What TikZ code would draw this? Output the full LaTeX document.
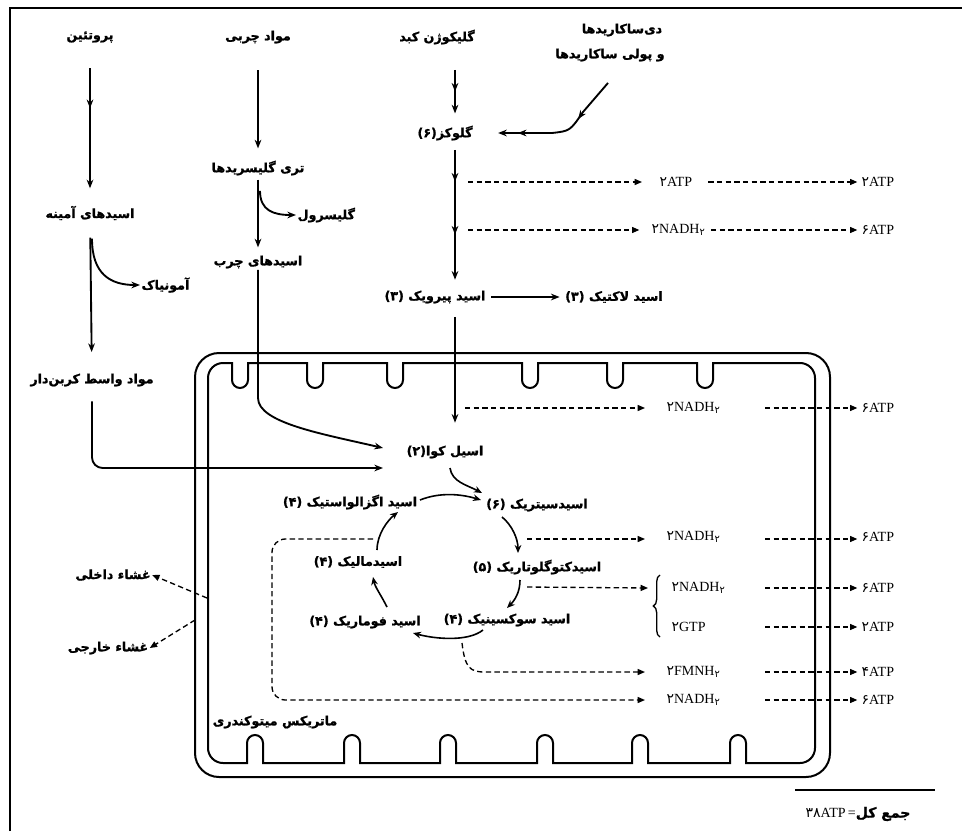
\documentclass[tikz,border=0pt]{standalone}
\usepackage{fontspec}
\setmainfont{Liberation Serif}
\newfontfamily\fa[Script=Arabic, BoldFeatures={FakeBold=1.2}]{DejaVu Sans}
\usetikzlibrary{arrows.meta,calc,decorations.markings,decorations.pathreplacing}
\TeXXeTstate=1
\newcommand{\rtl}[1]{\beginR#1\endR}
\newcommand{\pd}[1]{{\fa #1}}
\tikzset{
  fatxt/.style={font=\fa\bfseries\fontsize{9.5}{11}\selectfont, inner sep=1pt},
  entxt/.style={font=\fontsize{10.5}{12}\selectfont, inner sep=1pt, anchor=west},
  flow/.style={-{Stealth[length=6.5pt,width=5pt]}, line width=1.4pt},
  cyc/.style={-{Stealth[length=6pt,width=5pt]}, line width=1.2pt},
  dflow/.style={-{Triangle[length=5.5pt,width=4.5pt]}, line width=1pt, dash pattern=on 4pt off 2.5pt},
  midtip/.style={postaction={decorate}, decoration={markings,
      mark=at position #1 with {\arrow{Stealth[length=6.5pt,width=5pt]}}}},
  midtwo/.style 2 args={postaction={decorate}, decoration={markings,
      mark=at position #1 with {\arrow{Stealth[length=6.5pt,width=5pt]}},
      mark=at position #2 with {\arrow{Stealth[length=6.5pt,width=5pt]}}}},
  membrane/.style={line width=1.5pt}
}
\begin{document}
\begin{tikzpicture}[x=0.75pt, y=-0.75pt]
  \useasboundingbox (0,0) rectangle (962,831);
  % frame
  \draw[line width=2pt] (10,831) -- (10,8) -- (962,8);

  % mitochondrion
  \draw[membrane, rounded corners=18pt] (195,353) rectangle (830,777);
  \draw[membrane] (223,363)
    \foreach \cx in {240,315,395,530,615,705} { -- ({\cx-8},363) -- ({\cx-8},380) arc (180:0:8) -- ({\cx+8},363) }
    -- (800,363) arc (-90:0:15) -- (815,748) arc (0:90:15)
    \foreach \cx in {738,640,545,448,352,255} { -- ({\cx+8},763) -- ({\cx+8},743) arc (0:-180:8) -- ({\cx-8},763) }
    -- (223,763) arc (90:180:15) -- (208,378) arc (180:270:15) -- cycle;

  % column heads
  \node[fatxt] (hdrProt) at (90,37) {\rtl{پروتئین}};
  \node[fatxt] (hdrFat) at (258,37) {\rtl{مواد چربی}};
  \node[fatxt] (hdrGlyc) at (437,37) {\rtl{گلیکوژن کبد}};
  \node[fatxt] (hdrDi) at (622,30) {\rtl{دی‌ساکاریدها}};
  \node[fatxt] (hdrPoly) at (610,55) {\rtl{و پولی ساکاریدها}};

  % substances
  \node[fatxt] (glc) at (445,133) {\rtl{گلوکز(۶)}};
  \node[fatxt] (tg) at (258,168) {\rtl{تری گلیسریدها}};
  \node[fatxt] (aa) at (90,213) {\rtl{اسیدهای آمینه}};
  \node[fatxt, anchor=west] (glyc) at (296,215) {\rtl{گلیسرول}};
  \node[fatxt] (fa) at (258,262) {\rtl{اسیدهای چرب}};
  \node[fatxt, anchor=west] (nh3) at (140,285) {\rtl{آمونیاک}};
  \node[fatxt] (pyr) at (435,297) {\rtl{اسید پیرویک (۳)}};
  \node[fatxt] (lac) at (614,297) {\rtl{اسید لاکتیک (۳)}};
  \node[fatxt] (carb) at (92,380) {\rtl{مواد واسط کربن‌دار}};
  \node[fatxt] (acoa) at (445,452) {\rtl{اسیل کوا(۲)}};

  % krebs cycle
  \node[fatxt] (oxa) at (350,502) {\rtl{اسید اگزالواستیک (۴)}};
  \node[fatxt] (cit) at (537,505) {\rtl{اسیدسیتریک (۶)}};
  \node[fatxt] (mal) at (358,562) {\rtl{اسیدمالیک (۴)}};
  \node[fatxt] (akg) at (537,567) {\rtl{اسیدکتوگلوتاریک (۵)}};
  \node[fatxt] (suc) at (507,620) {\rtl{اسید سوکسینیک (۴)}};
  \node[fatxt] (fum) at (365,622) {\rtl{اسید فوماریک (۴)}};

  \node[fatxt] (inner) at (113,575) {\rtl{غشاء داخلی}};
  \node[fatxt] (outer) at (108,648) {\rtl{غشاء خارجی}};
  \node[fatxt] (matrix) at (275,722) {\rtl{ماتریکس میتوکندری}};

  % energy column
  \node[entxt] (atpA) at (658,182) {\pd{۲}ATP};
  \node[entxt] (atpAr) at (860,182) {\pd{۲}ATP};
  \node[entxt] (nadhB) at (650,230) {\pd{۲}NADH\textsubscript{\pd{۲}}};
  \node[entxt] (atpBr) at (860,230) {\pd{۶}ATP};
  \node[entxt] (nadhC) at (665,408) {\pd{۲}NADH\textsubscript{\pd{۲}}};
  \node[entxt] (atpCr) at (860,408) {\pd{۶}ATP};
  \node[entxt] (nadhD) at (665,537) {\pd{۲}NADH\textsubscript{\pd{۲}}};
  \node[entxt] (atpDr) at (860,537) {\pd{۶}ATP};
  \node[entxt] (nadhE) at (670,588) {\pd{۲}NADH\textsubscript{\pd{۲}}};
  \node[entxt] (atpEr) at (860,588) {\pd{۶}ATP};
  \node[entxt] (gtpE) at (670,627) {\pd{۲}GTP};
  \node[entxt] (atpFr) at (860,627) {\pd{۲}ATP};
  \node[entxt] (fmnh) at (665,672) {\pd{۲}FMNH\textsubscript{\pd{۲}}};
  \node[entxt] (atpGr) at (860,672) {\pd{۴}ATP};
  \node[entxt] (nadhG) at (665,700) {\pd{۲}NADH\textsubscript{\pd{۲}}};
  \node[entxt] (atpHr) at (860,700) {\pd{۶}ATP};
  \node[entxt, anchor=center] (total) at (858,814) {\pd{۳۸}ATP\,={\fa\bfseries\rtl{جمع کل}}};
  \draw[line width=1.4pt] (795,790) -- (935,790);

  % free ends
  \coordinate (gTop) at (455,70);
  \coordinate (inA) at (383,448);
  \coordinate (inB) at (383,468);
  \coordinate (rA) at (468,182);
  \coordinate (rB) at (468,230);
  \coordinate (rC) at (465,408);
  \coordinate (rD) at (527,539);
  \coordinate (rE) at (527,587);
  \coordinate (rF) at (462,643);
  \coordinate (rG) at (373,539);
  \coordinate (loopA) at (272,539);
  \coordinate (loopB) at (272,700);
  \coordinate (brIn) at (648,588);
  \coordinate (dashX) at (765,0);
  \coordinate (mIn) at (207,598);
  \coordinate (mOut) at (195,620);

  % protein
  \draw[flow, midtip=0.4, shorten <=18pt, shorten >=12pt] (hdrProt) -- (aa);
  \draw[flow, shorten <=12pt, shorten >=15pt] (aa) -- (carb);
  \draw[flow] ($(aa.south)+(2,17)$) .. controls +(0,35) and +(-30,0) .. (nh3.west);
  \draw[flow, rounded corners=8pt, shorten <=10pt] (carb.south) |- (inB);
  % fat
  \draw[flow, shorten <=19pt, shorten >=8pt] (hdrFat) -- (tg);
  \draw[flow, shorten <=2pt, shorten >=5pt] (tg) -- (fa);
  \draw[flow] ($(tg.south)+(2,14)$) .. controls +(0,20) and +(-22,0) .. (glyc.west);
  \draw[flow] (fa.south) -- ++(0,128) .. controls +(0,25) and +(-60,-14) .. (inA);
  % carbohydrate
  \draw[flow, midtip=0.4, shorten >=8pt] (gTop) -- (gTop |- glc.north);
  \draw[flow, midtwo={0.27}{0.63}, shorten <=6pt, shorten >=7pt] (glc.south -| gTop) -- (pyr.north -| gTop);
  \draw[flow, midtwo={0.3}{0.72}, shorten >=18pt] ($(hdrPoly.south)+(-2,20)$) -- (583,112) .. controls (570,131) .. (552,133) -- (glc.east);
  \draw[flow, shorten <=3pt, shorten >=3pt] (pyr) -- (lac);
  \draw[flow, shorten <=9pt, shorten >=16pt] (pyr.south -| gTop) -- (acoa.north -| gTop);

  % cycle
  \draw[cyc] ($(acoa)+(5,16)$) .. controls +(2,14) and +(-15,-8) .. ($(cit)+(-55,-12)$);
  \draw[cyc] ($(oxa)+(70,-2)$) .. controls +(20,-8) and +(-20,-6) .. ($(cit)+(-56,-5)$);
  \draw[cyc] ($(cit)+(-35,12)$) .. controls +(10,8) and +(0,-14) .. ($(akg)+(-19,-14)$);
  \draw[cyc] ($(akg)+(-17,13)$) .. controls +(0,12) and +(8,-8) .. ($(suc)+(0,-12)$);
  \draw[cyc] ($(suc)+(-24,10)$) .. controls +(-15,12) and +(22,6) .. ($(fum)+(48,11)$);
  \draw[cyc] ($(fum)+(22,-15)$) .. controls +(-6,-12) and +(2,10) .. ($(mal)+(15,15)$);
  \draw[cyc] ($(mal)+(19,-12)$) .. controls +(0,-16) and +(-10,8) .. ($(oxa)+(48,10)$);

  % energy rows
  \draw[dflow, shorten >=12pt] (rA) -- (rA -| atpA.west);
  \draw[dflow, shorten <=11pt, shorten >=2pt] (atpA.east) -- (atpAr.west);
  \draw[dflow, shorten >=8pt] (rB) -- (rB -| nadhB.west);
  \draw[dflow, shorten <=3pt, shorten >=2pt] (nadhB.east |- rB) -- (rB -| atpBr.west);
  \draw[dflow, shorten >=15pt] (rC) -- (rC -| nadhC.west);
  \draw[dflow, shorten >=2pt] (dashX |- rC) -- (rC -| atpCr.west);
  \draw[dflow, shorten >=15pt] (rD) -- (rD -| nadhD.west);
  \draw[dflow, shorten >=2pt] (dashX |- rD) -- (rD -| atpDr.west);
  \draw[dflow] (rE) -- (brIn);
  \draw[line width=1pt, decorate, decoration={brace, amplitude=5pt}] (660,637) -- (660,575);
  \draw[dflow, shorten >=2pt] (dashX |- nadhE) -- (atpEr.west);
  \draw[dflow, shorten >=2pt] (dashX |- gtpE) -- (atpFr.west);
  \draw[dflow, shorten >=15pt] (rF) .. controls (465,668) and (470,672) .. (485,672) -- (fmnh.west);
  \draw[dflow, shorten >=2pt] (dashX |- fmnh) -- (atpGr.west);
  \draw[dflow, rounded corners=10pt, shorten >=15pt] (rG) -- (loopA) -- (loopB) -- (nadhG.west);
  \draw[dflow, shorten >=2pt] (dashX |- nadhG) -- (atpHr.west);

  % membranes
  \draw[dflow] (mIn) -- (inner.east);
  \draw[dflow] (mOut) -- (outer.east);
\end{tikzpicture}
\end{document}
